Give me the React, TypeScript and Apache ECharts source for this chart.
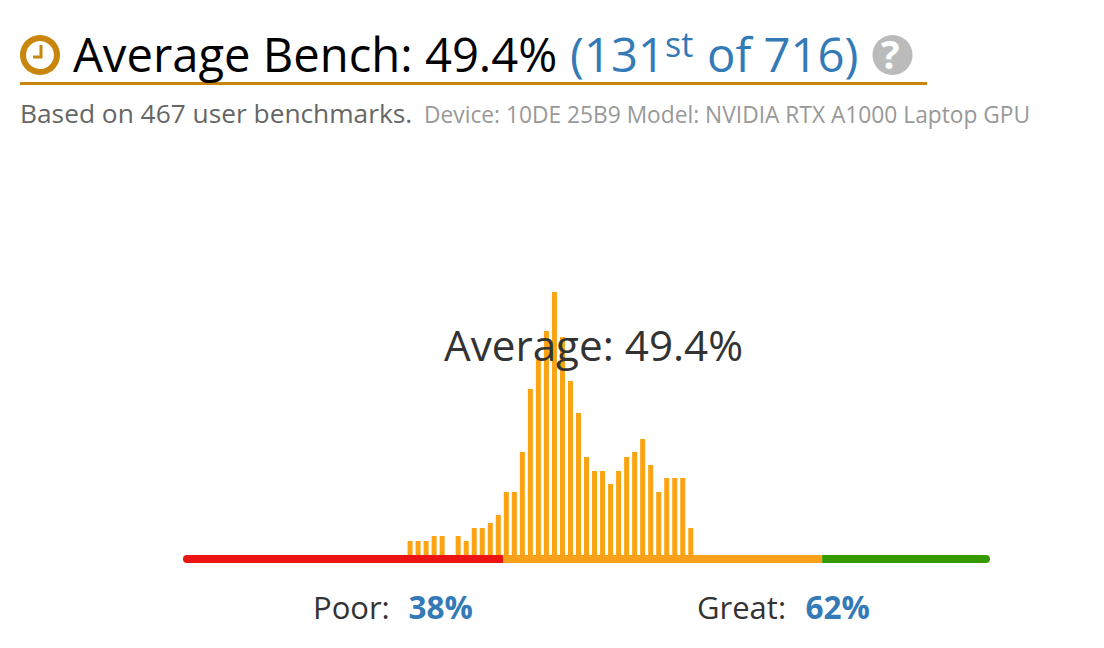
import React, { useEffect, useRef } from "react";
import * as echarts from "echarts";

const binCount = 100;
const firstBin = 28;
const binValues = [
  14, 14, 14, 19, 19, 0, 19, 14, 27, 27, 32, 40, 63, 63, 103, 166, 196, 224,
  263, 218, 174, 142, 98, 84, 84, 71, 84, 98, 103, 116, 90, 63, 77, 77, 77, 27,
];
const scaleSegments = [
  { name: "Poor range", value: 39.65, color: "#ec1313" },
  { name: "Average range", value: 39.55, color: "#f9a01b" },
  { name: "Great range", value: 20.8, color: "#349a00" },
];
const categories = Array.from({ length: binCount }, (_, i) => String(i));
const counts = categories.map((_, i) => {
  const v = binValues[i - firstBin];
  return v === undefined ? 0 : v;
});

const FONT = "'Open Sans', sans-serif";
const GOLD = "#c8860d";
const BLUE = "#337ab7";

// y is the text's baseline
const txt = (x: number, y: number, text: string, fontSize: number, fill: string, fontWeight: any = "normal") => ({
  type: "text",
  x,
  y: y - 0.89 * fontSize,
  z: 20,
  style: { text, fontSize, fill, fontWeight, fontFamily: FONT },
});

export default function App() {
  const ref = useRef<HTMLDivElement>(null);
  useEffect(() => {
    const chart = echarts.init(ref.current!, undefined, { renderer: "svg" });
    const n = scaleSegments.length;
    chart.setOption({
      animation: false,
      backgroundColor: "#ffffff",
      grid: [
        { left: 181.5, width: 802, top: 255, height: 300 },
        { left: 183, width: 807, top: 555, height: 8 },
      ],
      xAxis: [
        { type: "category", gridIndex: 0, data: categories, show: false },
        { type: "value", gridIndex: 1, min: 0, max: 100, show: false },
      ],
      yAxis: [
        { type: "value", gridIndex: 0, min: 0, max: 300, show: false },
        { type: "category", gridIndex: 1, data: ["scale"], show: false },
      ],
      series: [
        {
          type: "bar",
          name: "Benchmarks",
          xAxisIndex: 0,
          yAxisIndex: 0,
          data: counts,
          barWidth: 5,
          itemStyle: { color: "#fba312" },
          silent: true,
        },
        ...scaleSegments.map((s, i) => ({
          type: "bar",
          name: s.name,
          stack: "scale",
          xAxisIndex: 1,
          yAxisIndex: 1,
          barWidth: 8,
          data: [s.value],
          silent: true,
          itemStyle: {
            color: s.color,
            borderRadius: i === 0 ? [4, 0, 0, 4] : i === n - 1 ? [0, 4, 4, 0] : 0,
          },
        })),
      ],
      graphic: [
        { type: "ring", z: 20, shape: { cx: 40, cy: 55, r: 20, r0: 14 }, style: { fill: GOLD } },
        { type: "polyline", z: 20, shape: { points: [[41, 45], [41, 57], [33, 57]] }, style: { stroke: GOLD, lineWidth: 3, fill: "none" } },
        { type: "rect", z: 20, shape: { x: 20, y: 82, width: 907, height: 3 }, style: { fill: GOLD } },
        txt(73, 72.5, "Average Bench: 49.4%", 47.2, "#000000"),
        txt(570, 72.5, "(131", 47.2, BLUE),
        txt(665, 57, "st", 34, BLUE),
        txt(707, 72.5, "of 716)", 47.2, BLUE),
        { type: "circle", z: 20, shape: { cx: 892.5, cy: 55, r: 20 }, style: { fill: "#bbbbbb" } },
        txt(881, 69, "?", 39, "#ffffff", "bold"),
        txt(20, 123, "Based on 467 user benchmarks.", 26.3, "#666666"),
        txt(424, 123, "Device: 10DE 25B9 Model: NVIDIA RTX A1000 Laptop GPU", 22.75, "#999999"),
        txt(444, 361, "Average: 49.4%", 42.2, "#333333"),
        txt(313, 619, "Poor:", 31, "#333333"),
        txt(408.5, 619, "38%", 31.5, BLUE, "bold"),
        txt(697, 619, "Great:", 31, "#333333"),
        txt(805.5, 619, "62%", 31.5, BLUE, "bold"),
      ],
    });
    return () => chart.dispose();
  }, []);
  return <div ref={ref} style={{ position: "fixed", left: 0, top: 0, width: 1104, height: 648 }} />;
}
